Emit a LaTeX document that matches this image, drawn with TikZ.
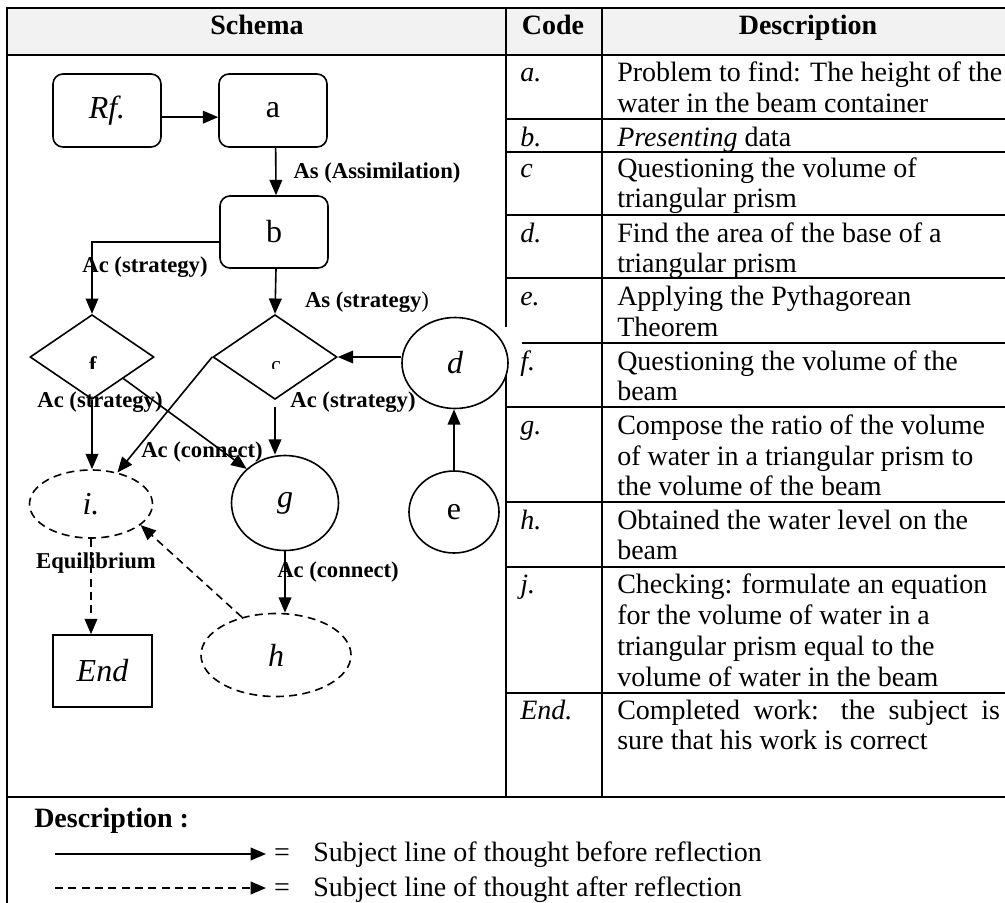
\documentclass[tikz,border=0pt]{standalone}
\usepackage{fontspec}
\setmainfont{Liberation Serif}
\usetikzlibrary{shapes.geometric,arrows.meta}
\definecolor{hdrgray}{HTML}{F2F2F2}
\begin{document}
\begin{tikzpicture}[x=0.75pt,y=-0.75pt,
  tline/.style={line width=1.6pt,line cap=rect},
  conn/.style={line width=1.2pt,-{Triangle[length=11.5pt,width=9.5pt]}},
  dconn/.style={conn,dash pattern=on 6pt off 4pt},
  shp/.style={draw,line width=1.2pt,inner sep=0pt,font=\fontsize{24}{26}\selectfont},
  rbox/.style={shp,rounded corners=7.5pt,minimum width=81pt,minimum height=54.75pt},
  dia/.style={shp,diamond,minimum width=93pt,minimum height=63.5pt},
  ell/.style={shp,ellipse},
  dell/.style={ell,dash pattern=on 6pt off 4pt},
  lbl/.style={font=\fontsize{17}{19}\selectfont\bfseries,inner sep=0pt},
  body/.style={font=\fontsize{21}{23}\selectfont,inner sep=0pt,anchor=base west},
  code/.style={body,font=\fontsize{21}{23}\selectfont\itshape},
  hdr/.style={font=\fontsize{21}{23}\selectfont\bfseries,inner sep=0pt,anchor=base}
]
\useasboundingbox (0,0) rectangle (1005,902);
% ---------- table ----------
\fill[hdrgray] (7,8) rectangle (1005,55);
\draw[tline] (7,8) -- (1005,8);
\draw[tline] (7,55) -- (1005,55);
\draw[tline] (7,8) -- (7,902);
\draw[tline] (506,8) -- (506,797);
\draw[tline] (602,8) -- (602,797);
\foreach \yy in {119,152,215,278,343,407,502,567,693}
  \draw[tline] (506,\yy) -- (1005,\yy);
\draw[tline] (7,797) -- (1005,797);
\fill[white] (494,327) rectangle (522,372);

\node[hdr] (hschema) at (257,35) {Schema};
\node[hdr] (hcode) at (553,35) {Code};
\node[hdr] (hdesc) at (808,35) {Description};

\node[code] (ca) at (520,82) {a.};
\node[body] (ta1) at (617,82) {Problem to find: The height of the};
\node[body] (ta2) at (617,113) {water in the beam container};
\node[code] (cb) at (520,147) {b.};
\node[body] (tb1) at (617,147) {\textit{Presenting} data};
\node[code] (cc) at (520,178) {c};
\node[body] (tc1) at (617,178) {Questioning the volume of};
\node[body] (tc2) at (617,208) {triangular prism};
\node[code] (cd) at (520,242) {d.};
\node[body] (td1) at (617,242) {Find the area of the base of a};
\node[body] (td2) at (617,272) {triangular prism};
\node[code] (ce) at (520,305) {e.};
\node[body] (te1) at (617,305) {Applying the Pythagorean};
\node[body] (te2) at (617,336) {Theorem};
\node[code] (cf) at (520,370) {f.};
\node[body] (tf1) at (617,370) {Questioning the volume of the};
\node[body] (tf2) at (617,400) {beam};
\node[code] (cg) at (520,434) {g.};
\node[body] (tg1) at (617,434) {Compose the ratio of the volume};
\node[body] (tg2) at (617,465) {of water in a triangular prism to};
\node[body] (tg3) at (617,495) {the volume of the beam};
\node[code] (ch) at (520,529) {h.};
\node[body] (th1) at (617,529) {Obtained the water level on the};
\node[body] (th2) at (617,559) {beam};
\node[code] (cj) at (520,593) {j.};
\node[body] (tj1) at (617,593) {Checking: formulate an equation};
\node[body] (tj2) at (617,624) {for the volume of water in a};
\node[body] (tj3) at (617,655) {triangular prism equal to the};
\node[body] (tj4) at (617,686) {volume of water in the beam};
\node[code] (cend) at (520,719) {End.};
\node[body] (tend1) at (617,719) {\makebox[287pt][s]{Completed work: the subject is}};
\node[body] (tend2) at (617,749) {sure that his work is correct};

% ---------- schema ----------
\node[rbox] (Rf) at (107,110.5) {\itshape Rf.};
\node[rbox] (a) at (273,110.5) {a};
\node[rbox,minimum height=54pt] (b) at (274,232) {b};
\node[dia] (f) at (92,357) {};
\node[dia] (c) at (275,357) {};
\begin{scope}
  \clip (60,340) rectangle (130,368);
  \node[font=\fontsize{17}{19}\selectfont\bfseries,inner sep=0pt,anchor=base] (ftext) at (93,372) {f};
\end{scope}
\begin{scope}
  \clip (240,340) rectangle (310,368);
  \node[font=\fontsize{16}{18}\selectfont,inner sep=0pt,anchor=base] (ctext) at (276,371) {c};
\end{scope}
\node[ell,fill=white,minimum width=79.5pt,minimum height=68.25pt] (d) at (455,363) {\itshape d};
\node[ell,minimum width=67.5pt,minimum height=61.5pt] (e) at (454,512) {e};
\node[ell,minimum width=80.25pt,minimum height=71.25pt] (g) at (285,503) {\itshape g};
\node[dell,minimum width=92.25pt,minimum height=51pt] (i) at (91,504) {\itshape i.};
\node[dell,minimum width=112.5pt,minimum height=62.25pt] (h) at (276,655) {\itshape h};
\node[shp,rectangle,minimum width=74.25pt,minimum height=54pt] (End) at (102.5,671) {\itshape End};

% labels
\node[lbl] (l1) at (377,173) {As (Assimilation)};
\node[lbl] (l2) at (145,267) {Ac (strategy)};
\node[lbl] (l3) at (367,302) {\textbf{As (strategy}\textmd{)}};
\node[lbl] (l4) at (100,402) {Ac (strategy)};
\node[lbl] (l5) at (353,402) {Ac (strategy)};
\node[lbl] (l6) at (202,452) {Ac (connect)};
\node[lbl] (l7) at (338,572) {Ac (connect)};
\node[lbl] (l8) at (96,563) {Equilibrium};

% connectors
\draw[conn] ([yshift=-5pt]Rf.east) -- ([yshift=-5pt]a.west);
\draw[conn] ([xshift=2pt]a.south) -- ([xshift=1.5pt]b.north);
\draw[conn] ([yshift=-7.5pt]b.west) -| (f.north);
\draw[conn] ([xshift=1.5pt]b.south) -- (c.north);
\draw[conn] (c.east -| d.west) -- (c.east);
\draw[conn] (e.north) -- (e.north |- d.south);
\draw[conn] (f.south) -- (f.south |- i.north);
\draw[conn,shorten <=5pt] (c.south) -- (c.south |- g.north);
\draw[conn] (f.south east) -- (g.north west);
\draw[conn] (c.west) -- (i.50);
\draw[conn] (g.south) -- (g.south |- h.north);
\draw[dconn] (h.132) -- (i.-23);
\draw[dconn] (i.south) -- (i.south |- End.north);

% ---------- legend ----------
\node[hdr,anchor=base west] (ldesc) at (34,827) {Description :};
\coordinate (s1) at (55,854);
\coordinate (s2) at (266,854);
\coordinate (d1) at (55,888);
\coordinate (d2) at (266,888);
\draw[conn] (s1) -- (s2);
\draw[dconn] (d1) -- (d2);
\node[body,anchor=base] (eq1) at (282,861) {=};
\node[body,anchor=base] (eq2) at (282,896) {=};
\node[body] (lt1) at (313,861) {Subject line of thought before reflection};
\node[body] (lt2) at (313,896) {Subject line of thought after reflection};
\end{tikzpicture}
\end{document}
